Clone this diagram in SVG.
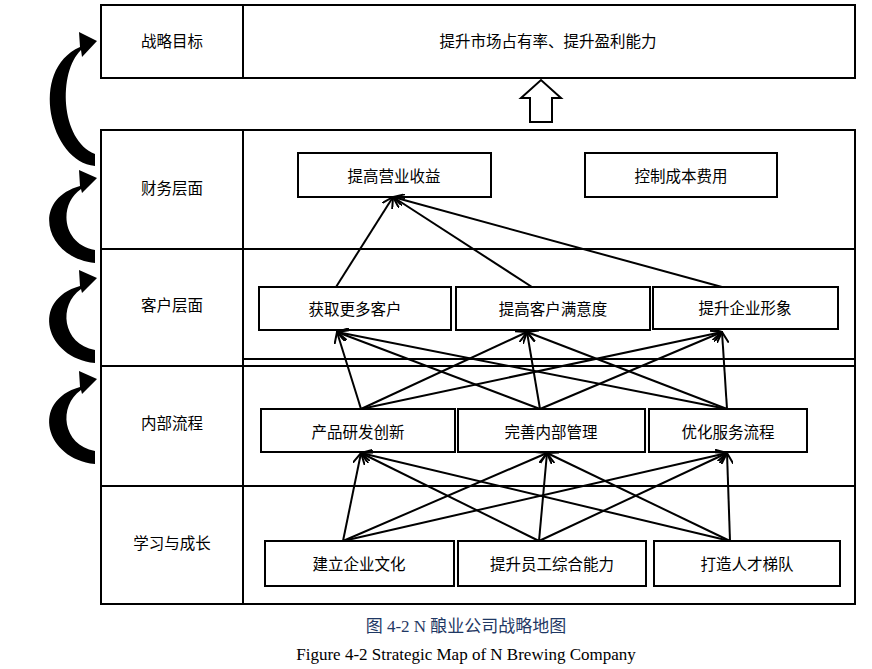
<svg xmlns="http://www.w3.org/2000/svg" width="872" height="669" viewBox="0 0 872 669">
<defs>
<style>
.b{fill:#fff;stroke:#000;stroke-width:2}
.t{font-family:"Liberation Sans","Noto Sans CJK SC",sans-serif;font-size:15.5px;text-anchor:middle;dominant-baseline:central;fill:#000}
.c line{stroke:#000;stroke-width:2;marker-end:url(#a)}
.cr{fill:#000}
</style>
<marker id="a" viewBox="0 0 12 12" refX="11" refY="6" markerWidth="12" markerHeight="12" markerUnits="userSpaceOnUse" orient="auto"><path d="M0,0 L11,6 L0,12" fill="none" stroke="#000" stroke-width="2"/></marker>
</defs>
<rect width="872" height="669" fill="#fff"/>
<g id="goal"><rect class="b" x="101" y="5" width="754" height="73"/><line x1="243" y1="5" x2="243" y2="78" stroke="#000" stroke-width="2"/>
<text class="t" x="172" y="41">战略目标</text><text class="t" x="548" y="41">提升市场占有率、提升盈利能力</text></g>
<g id="up"><path d="M530,122 L530,98 L521,98 L541,80 L561,98 L552,98 L552,122 Z" fill="#fff" stroke="#000" stroke-width="2"/></g>
<g id="frame">
<rect class="b" x="101" y="130" width="754" height="474"/>
<line x1="243" y1="130" x2="243" y2="604" stroke="#000" stroke-width="2"/>
<line x1="101" y1="249" x2="855" y2="249" stroke="#000" stroke-width="2"/>
<line x1="243" y1="359" x2="855" y2="359" stroke="#000" stroke-width="2"/>
<line x1="101" y1="366" x2="855" y2="366" stroke="#000" stroke-width="2"/>
<line x1="101" y1="486" x2="855" y2="486" stroke="#000" stroke-width="2"/>
<text class="t" x="172" y="188">财务层面</text><text class="t" x="172" y="305">客户层面</text><text class="t" x="172" y="423">内部流程</text><text class="t" x="172" y="543">学习与成长</text>
</g>
<g id="curves" class="cr">
<path d="M95,166 C50,162 28,70 80,47 L79,32 L97,41 L82,57 L81,50 C58,72 60,140 95,154 Z"/>
<path d="M95,263 C45,258 30,200 80,186 L79,170 L97,178 L82,193 L81,189 C58,205 62,244 95,250 Z"/>
<path d="M95,363 C45,358 30,300 80,286 L79,270 L97,278 L82,293 L81,289 C58,305 62,344 95,350 Z"/>
<path d="M95,464 C45,459 30,401 80,387 L79,371 L97,379 L82,394 L81,390 C58,406 62,445 95,451 Z"/>
</g>
<g id="n1"><rect class="b" x="298" y="153" width="193" height="44"/><text class="t" x="394" y="176">提高营业收益</text></g>
<g id="n2"><rect class="b" x="585" y="153" width="192" height="44"/><text class="t" x="681" y="176">控制成本费用</text></g>
<g id="n3"><rect class="b" x="259" y="287" width="192" height="43"/><text class="t" x="355" y="309">获取更多客户</text></g>
<g id="n4"><rect class="b" x="456" y="287" width="194" height="43"/><text class="t" x="553" y="309">提高客户满意度</text></g>
<g id="n5"><rect class="b" x="653" y="287" width="185" height="42"/><text class="t" x="745" y="308">提升企业形象</text></g>
<g id="n6"><rect class="b" x="261" y="409" width="194" height="43"/><text class="t" x="358" y="432">产品研发创新</text></g>
<g id="n7"><rect class="b" x="458" y="409" width="187" height="43"/><text class="t" x="551" y="432">完善内部管理</text></g>
<g id="n8"><rect class="b" x="649" y="409" width="158" height="43"/><text class="t" x="728" y="432">优化服务流程</text></g>
<g id="n9"><rect class="b" x="265" y="541" width="189" height="45"/><text class="t" x="359" y="564">建立企业文化</text></g>
<g id="n10"><rect class="b" x="458" y="541" width="188" height="45"/><text class="t" x="552" y="564">提升员工综合能力</text></g>
<g id="n11"><rect class="b" x="654" y="541" width="186" height="45"/><text class="t" x="747" y="564">打造人才梯队</text></g>
<g id="connectors" class="c">
<line x1="336" y1="287" x2="393" y2="197"/><line x1="532" y1="287" x2="393" y2="197"/><line x1="722" y1="287" x2="393" y2="197"/>
<line x1="361" y1="409" x2="337" y2="332"/><line x1="361" y1="409" x2="527" y2="332"/><line x1="361" y1="409" x2="722" y2="332"/>
<line x1="540" y1="409" x2="337" y2="332"/><line x1="540" y1="409" x2="527" y2="332"/><line x1="540" y1="409" x2="722" y2="332"/>
<line x1="727" y1="409" x2="337" y2="332"/><line x1="727" y1="409" x2="527" y2="332"/><line x1="727" y1="409" x2="722" y2="332"/>
<line x1="343" y1="541" x2="361" y2="453"/><line x1="343" y1="541" x2="547" y2="453"/><line x1="343" y1="541" x2="727" y2="453"/>
<line x1="539" y1="541" x2="361" y2="453"/><line x1="539" y1="541" x2="547" y2="453"/><line x1="539" y1="541" x2="727" y2="453"/>
<line x1="730" y1="541" x2="361" y2="453"/><line x1="730" y1="541" x2="547" y2="453"/><line x1="730" y1="541" x2="727" y2="453"/>
</g>
<g id="caption">
<text x="466" y="632" font-family="Liberation Serif,'Noto Sans CJK SC',serif" font-size="17" text-anchor="middle" fill="#1f3864">图 4-2 N 酿业公司战略地图</text>
<text x="466" y="660" font-family="Liberation Serif,serif" font-size="17" text-anchor="middle" fill="#000">Figure 4-2 Strategic Map of N Brewing Company</text>
</g>
</svg>
